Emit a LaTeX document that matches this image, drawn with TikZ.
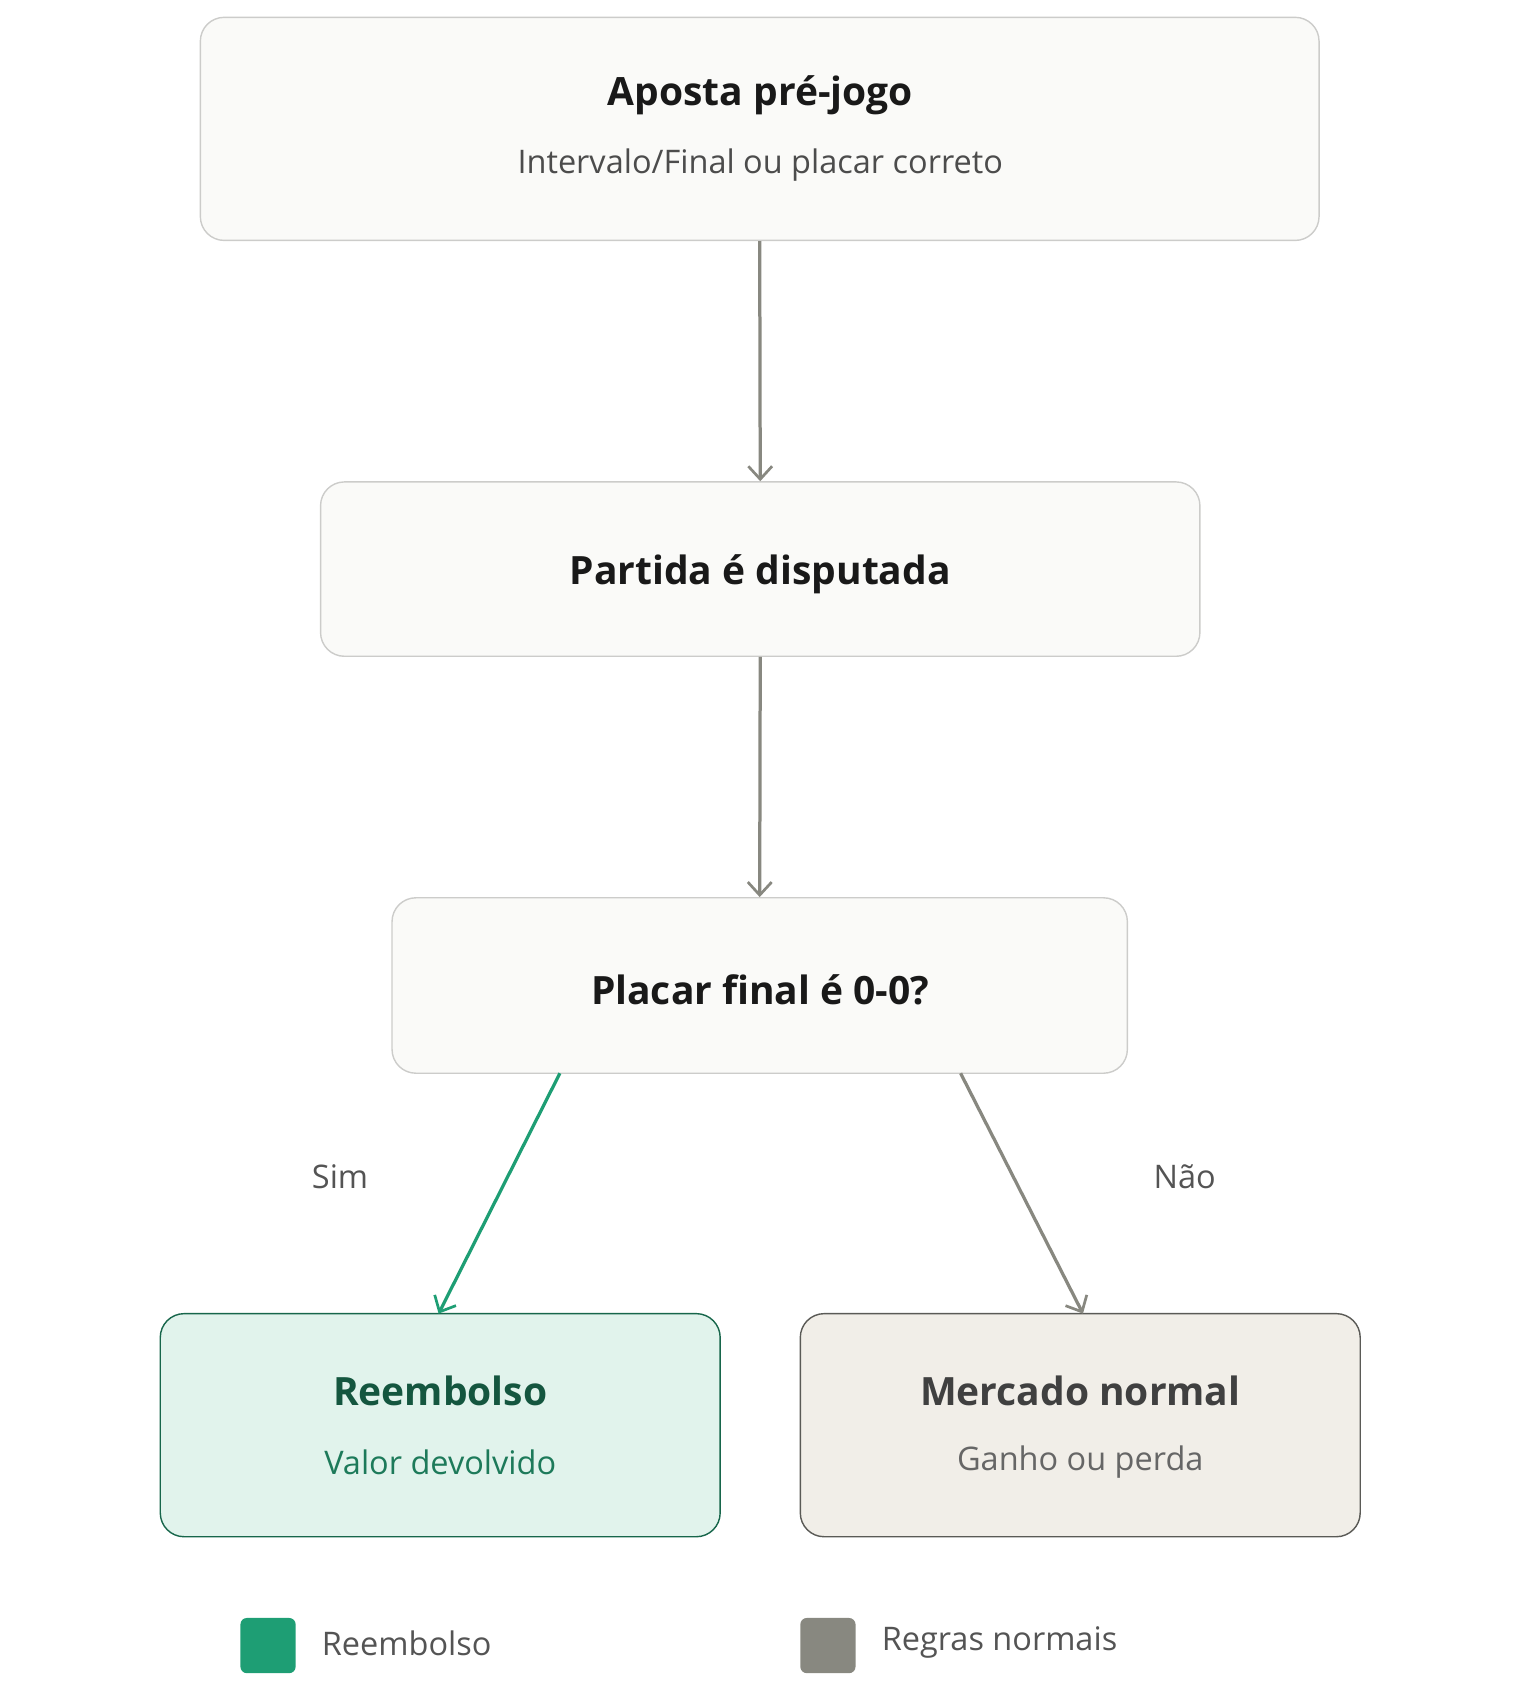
\documentclass[tikz,border=0pt]{standalone}
\usepackage{fontspec}
\setmainfont{Open Sans}
\usetikzlibrary{arrows.meta}
\definecolor{bxf}{HTML}{FAFAF8}
\definecolor{bxd}{HTML}{CCCCCA}
\definecolor{grn}{HTML}{1E9E74}
\definecolor{grnf}{HTML}{E1F3EC}
\definecolor{grnd}{HTML}{17664B}
\definecolor{grnt}{HTML}{14563F}
\definecolor{grns}{HTML}{1D7A5A}
\definecolor{gry}{HTML}{888880}
\definecolor{gryf}{HTML}{F1EEE8}
\definecolor{gryd}{HTML}{5A5A56}
\begin{document}
\begin{tikzpicture}[x=1pt,y=-1pt,
  box/.style={draw=bxd,fill=bxf,line width=1.3pt,rounded corners=22pt,inner sep=0pt},
  ttl/.style={font=\fontsize{36}{40}\selectfont\bfseries,text=black!90},
  sub/.style={font=\fontsize{30}{34}\selectfont,text=black!70},
  arr/.style={draw=gry,line width=3pt,-{Straight Barb[length=12pt,width=22pt,line width=2.5pt]}},
  lbl/.style={font=\fontsize{30}{34}\selectfont,text=black!67},
  leg/.style={rounded corners=6pt,minimum size=51pt,inner sep=0pt}]
\useasboundingbox (0,0) rectangle (1403,1567);
\node[box,minimum width=1033pt,minimum height=206pt] (a) at (701.5,119) {};
\node[ttl] (at) at (702,88) {Aposta pré-jogo};
\node[sub] (as) at (702,152) {Intervalo/Final ou placar correto};
\node[box,minimum width=812pt,minimum height=161pt] (b) at (702,525.5) {};
\node[ttl] (bt) at (702,530) {Partida é disputada};
\node[box,minimum width=679pt,minimum height=162pt] (c) at (701.5,910) {};
\node[ttl] (ct) at (702,914) {Placar final é 0-0?};
\node[box,draw=grnd,fill=grnf,minimum width=517pt,minimum height=206pt] (d) at (406.5,1316) {};
\node[ttl,text=grnt] (dt) at (406.5,1284) {Reembolso};
\node[sub,text=grns] (ds) at (406.5,1350) {Valor devolvido};
\node[box,draw=gryd,fill=gryf,minimum width=517pt,minimum height=206pt] (e) at (997.5,1316) {};
\node[ttl,text=black!75] (et) at (997.5,1284) {Mercado normal};
\node[sub,text=black!60] (es) at (997.5,1350) {Ganho ou perda};
\draw[arr] (a.south) -- (b.north);
\draw[arr] (b.south) -- (c.north);
\coordinate (c1) at (517,991); \coordinate (d1) at (405,1213);
\coordinate (c2) at (887,991); \coordinate (e1) at (1000,1213);
\draw[arr,draw=grn] (c1) -- (d1);
\draw[arr] (c2) -- (e1);
\node[lbl] (sim) at (314,1087) {Sim};
\node[lbl] (nao) at (1094,1087) {Não};
\node[leg,fill=grn] (l1) at (247.5,1519.5) {};
\node[lbl,anchor=west,inner sep=0pt] (l1t) at (297,1517) {Reembolso};
\node[leg,fill=gry] (l2) at (764.5,1519.5) {};
\node[lbl,anchor=west,inner sep=0pt] (l2t) at (814,1517) {Regras normais};
\end{tikzpicture}
\end{document}
